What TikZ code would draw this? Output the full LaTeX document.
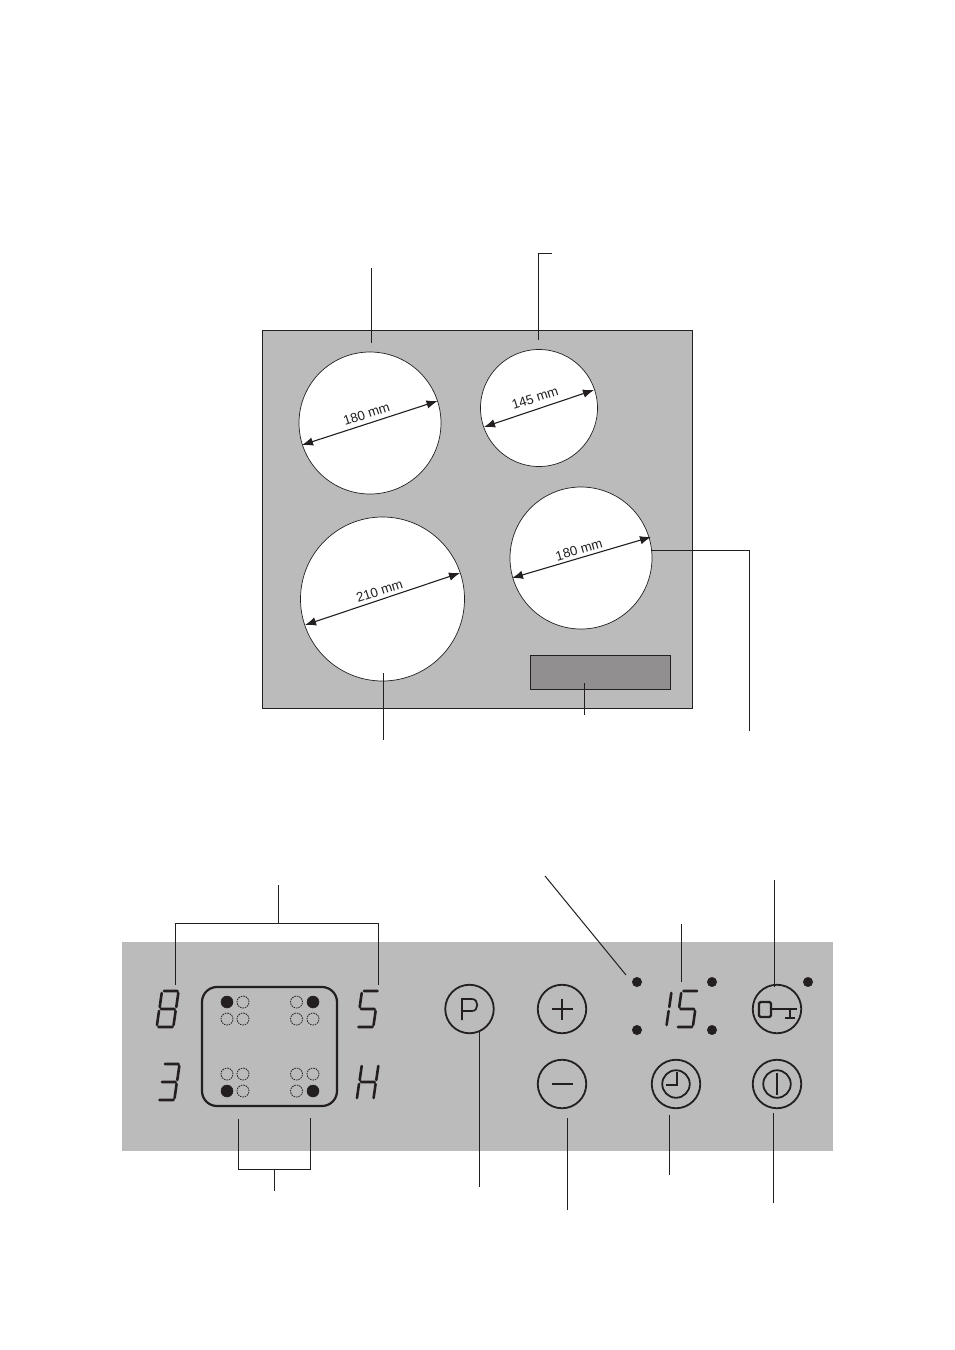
\documentclass[tikz,border=0pt]{standalone}
\usepackage{fontspec}
\setmainfont{Liberation Sans}
\usetikzlibrary{arrows.meta}
\definecolor{hob}{HTML}{BBBBBB}
\definecolor{ctrl}{HTML}{918F8F}
\definecolor{ink}{HTML}{231F20}
\tikzset{
  lead/.style={draw=ink,line width=1pt},
  zone/.style={circle,draw=ink,line width=0.7pt,fill=white,inner sep=0pt},
  dim/.style={draw=ink,line width=1.1pt,{Latex[length=11pt,width=8.5pt]}-{Latex[length=11pt,width=8.5pt]}},
  dimtext/.style={font=\fontsize{13.3}{13.3}\selectfont,text=ink,inner sep=0pt},
  keyring/.style={circle,draw=ink,line width=1.8pt,inner sep=0pt,minimum size=48.5pt},
  innerring/.style={circle,draw=ink,line width=1.8pt,inner sep=0pt,minimum size=27.5pt},
  glyphline/.style={draw=ink,line width=1.7pt},
  seg/.style={draw=ink,line width=2.6pt,line cap=round},
  ledon/.style={circle,fill=ink,draw=ink,line width=0.5pt,inner sep=0pt,minimum size=12pt},
  ledoff/.style={circle,draw=ink,line width=0.8pt,dash pattern=on 1.6pt off 0.9pt,inner sep=0pt,minimum size=12pt},
  dot/.style={circle,fill=ink,inner sep=0pt,minimum size=10pt},
}
\newcommand\sgA{(8,1)--(21.5,1)}
\newcommand\sgB{(22.3,3)--(20.3,17)}
\newcommand\sgC{(19.6,21)--(17.6,35)}
\newcommand\sgD{(2.5,37)--(16.5,37)}
\newcommand\sgE{(1,35)--(3,21)}
\newcommand\sgF{(3.7,17)--(5.7,3)}
\newcommand\sgG{(5,19)--(18.5,19)}
\begin{document}
\begin{tikzpicture}[x=1pt,y=-1pt]
\useasboundingbox (0,0) rectangle (954,1350);
% hob
\node[draw=ink,line width=0.7pt,fill=hob,inner sep=0pt,minimum width=430pt,minimum height=378pt] (hob) at (477,519) {};
\node[zone,minimum size=142pt] (z1) at (370,423) {};
\node[zone,minimum size=117pt] (z2) at (539,408) {};
\node[zone,minimum size=164pt] (z3) at (382.5,599) {};
\node[zone,minimum size=142pt] (z4) at (581,558) {};
\node[draw=ink,line width=0.5pt,fill=ctrl,inner sep=0pt,minimum width=140pt,minimum height=34pt] (cp) at (600,672) {};
\coordinate (d1a) at (302,445); \coordinate (d1b) at (437.5,401);
\coordinate (d2a) at (484,427); \coordinate (d2b) at (594,390);
\coordinate (d3a) at (305,625); \coordinate (d3b) at (460,573);
\coordinate (d4a) at (512,578); \coordinate (d4b) at (651,537);
\draw[dim] (d1a) -- (d1b);
\draw[dim] (d2a) -- (d2b);
\draw[dim] (d3a) -- (d3b);
\draw[dim] (d4a) -- (d4b);
\node[dimtext,rotate=18] (t1) at (366.5,414) {180 mm};
\node[dimtext,rotate=18] (t2) at (535,398) {145 mm};
\node[dimtext,rotate=18] (t3) at (379.5,591) {210 mm};
\node[dimtext,rotate=16] (t4) at (579,550) {180 mm};
% hob leaders
\coordinate (l1a) at (371.4,268); \coordinate (l1b) at (371.4,343);
\draw[lead] (l1a) -- (l1b);
\coordinate (l2a) at (552,253.4); \coordinate (l2b) at (538.4,253.4); \coordinate (l2c) at (538.4,340);
\draw[lead] (l2a) -- (l2b) -- (l2c);
\coordinate (l3a) at (383.4,673); \coordinate (l3b) at (383.4,740);
\draw[lead] (l3a) -- (l3b);
\coordinate (l4a) at (584.4,683); \coordinate (l4b) at (584.4,715);
\draw[lead] (l4a) -- (l4b);
\coordinate (l5a) at (651,550.4); \coordinate (l5b) at (749.4,550.4); \coordinate (l5c) at (749.4,731);
\draw[lead] (l5a) -- (l5b) -- (l5c);
% control panel
\node[fill=hob,inner sep=0pt,minimum width=711pt,minimum height=209pt] (panel) at (477.5,1046.5) {};
% digits
\begin{scope}[shift={(156,990)}]
\draw[seg] \sgA \sgB \sgC \sgD \sgE \sgF \sgG;
\end{scope}
\begin{scope}[shift={(356,990)}]
\draw[seg] \sgA \sgC \sgD \sgF \sgG;
\end{scope}
\begin{scope}[shift={(157,1063)}]
\draw[seg] \sgA \sgB \sgC \sgD \sgG;
\end{scope}
\begin{scope}[shift={(356,1063)}]
\draw[seg] \sgB \sgC \sgE \sgF \sgG;
\end{scope}
\begin{scope}[shift={(675.5,990)}]
\draw[seg] \sgA \sgC \sgD \sgF \sgG;
\end{scope}
\begin{scope}[shift={(649,990)}]
\draw[seg] \sgB \sgC;
\end{scope}
% selector box
\node[draw=ink,line width=2.2pt,rounded corners=15pt,inner sep=0pt,minimum width=135pt,minimum height=119pt] (sel) at (269.5,1046.5) {};
\node[ledon] (a1) at (227,1002) {};
\node[ledoff] (a2) at (243,1002) {};
\node[ledoff] (a3) at (227,1019) {};
\node[ledoff] (a4) at (243,1019) {};
\node[ledoff] (b1) at (296.5,1002) {};
\node[ledon] (b2) at (313,1002) {};
\node[ledoff] (b3) at (296.5,1019) {};
\node[ledoff] (b4) at (313,1019) {};
\node[ledoff] (c1) at (227,1074) {};
\node[ledoff] (c2) at (243,1074) {};
\node[ledon] (c3) at (227,1091) {};
\node[ledoff] (c4) at (243,1091) {};
\node[ledoff] (d1) at (296.5,1074) {};
\node[ledoff] (d2) at (313,1074) {};
\node[ledoff] (d3) at (296.5,1091) {};
\node[ledon] (d4) at (313,1091) {};
% buttons
\node[keyring] (P) at (469.5,1009) {};
\draw[glyphline] (462,1020) -- (462,999) -- (472,999) .. controls (479,999) and (479,1011) .. (472,1011) -- (462,1011);
\node[keyring] (plus) at (562,1009) {};
\draw[glyphline,line width=2.2pt] (552,1009) -- (573,1009) (562,998.5) -- (562,1019.5);
\node[keyring] (minus) at (562,1084) {};
\draw[glyphline,line width=2.2pt] (552,1084) -- (573,1084);
\node[keyring] (clock) at (676,1084) {};
\node[innerring] (clocki) at (676,1084) {};
\draw[glyphline,line width=2pt] (677,1072) -- (677,1084.5) -- (666,1084.5);
\node[keyring] (power) at (777,1084) {};
\node[innerring] (poweri) at (777,1084) {};
\draw[glyphline,line width=2.6pt] (777,1073) -- (777,1095);
\node[keyring] (key) at (777,1009) {};
\draw[glyphline,line width=2.2pt,rounded corners=1.5pt] (759,1002) rectangle (771,1017);
\draw[glyphline,line width=2.4pt] (771,1009) -- (797,1009);
\draw[glyphline,line width=2pt] (790,1009) -- (790,1018) (785,1018) -- (795,1018);
\node[dot] (e1) at (637,982) {};
\node[dot] (e2) at (712,982) {};
\node[dot] (e3) at (637,1030) {};
\node[dot] (e4) at (712,1030) {};
\node[dot] (e5) at (808,982) {};
% panel leaders
\coordinate (m1) at (278.4,885); \coordinate (m2) at (278.4,923);
\draw[lead] (m1) -- (m2);
\coordinate (m3) at (175.4,985); \coordinate (m4) at (175.4,923.4); \coordinate (m5) at (378.6,923.4); \coordinate (m6) at (378.6,985);
\draw[lead] (m3) -- (m4) -- (m5) -- (m6);
\coordinate (n1) at (238.6,1119); \coordinate (n2) at (238.6,1169.4); \coordinate (n3) at (310.6,1169.4); \coordinate (n4) at (310.6,1118);
\draw[lead] (n1) -- (n2) -- (n3) -- (n4);
\coordinate (n5) at (274.6,1169); \coordinate (n6) at (274.6,1191);
\draw[lead] (n5) -- (n6);
\coordinate (o1) at (545,876); \coordinate (o2) at (626,975);
\draw[lead] (o1) -- (o2);
\coordinate (o3) at (681.4,924); \coordinate (o4) at (681.4,982);
\draw[lead] (o3) -- (o4);
\coordinate (o5) at (774.6,880); \coordinate (o6) at (774.6,987);
\draw[lead] (o5) -- (o6);
\coordinate (o7) at (479.4,1030); \coordinate (o8) at (479.4,1187);
\draw[lead] (o7) -- (o8);
\coordinate (o9) at (567.4,1118); \coordinate (o10) at (567.4,1210);
\draw[lead] (o9) -- (o10);
\coordinate (o11) at (669.4,1115); \coordinate (o12) at (669.4,1175);
\draw[lead] (o11) -- (o12);
\coordinate (o13) at (773.4,1113); \coordinate (o14) at (773.4,1203);
\draw[lead] (o13) -- (o14);
\end{tikzpicture}
\end{document}
